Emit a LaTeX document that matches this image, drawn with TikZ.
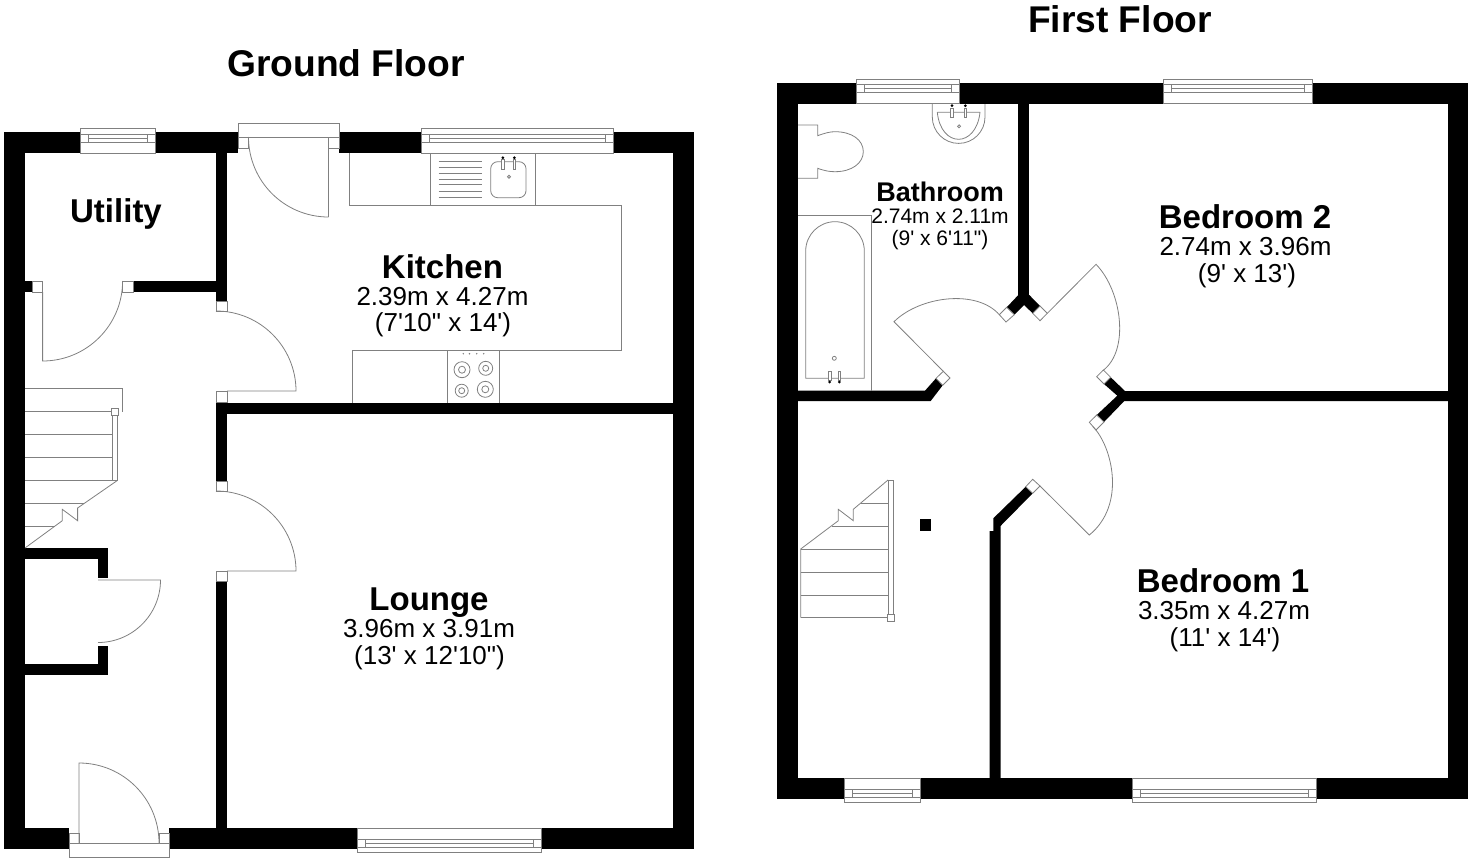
\documentclass[tikz,border=0pt]{standalone}
\usepackage{fontspec}
\setmainfont{Liberation Sans}[Ligatures=TeXOff]
\begin{document}
\begin{tikzpicture}[x=1pt, y=-1pt,
    wall/.style = {fill=black},
    fitting/.style = {draw=black!50, line width=0.8pt},
    jamb/.style = {draw=black!50, line width=0.8pt, fill=white},
    floorname/.style = {anchor=base, inner sep=0pt, font=\fontsize{37.2}{37}\selectfont\bfseries},
    roomname/.style = {anchor=base, inner sep=0pt, font=\fontsize{33}{33}\selectfont\bfseries},
    roomsize/.style = {anchor=base, inner sep=0pt, font=\fontsize{26}{26}\selectfont},
    bathname/.style = {anchor=base, inner sep=0pt, font=\fontsize{27}{27}\selectfont\bfseries},
    bathsize/.style = {anchor=base, inner sep=0pt, font=\fontsize{21}{21}\selectfont}]
  \useasboundingbox (0,0) rectangle (1472,865);

  % straight walls
  \foreach \xa/\ya/\xb/\yb in {4/132/25/849, 4/132/694/153, 673/132/694/849, 4/828/694/849,
      216/153/227/301, 133/281/216/292, 25/281/32/292, 216/402/227/481, 216/581/227/828,
      216/403/673/413.5, 25/548/108.3/559, 97.7/548/108.3/578, 97.7/645.7/108.3/675, 25/664/108.3/675,
      777/82.5/798/799, 777/82.5/1468/104, 1448/82.5/1468/799, 777/778/1468/799,
      1018.3/104/1029.3/296, 920/519.3/930.7/530.7}
    \fill[wall] (\xa,\ya) rectangle (\xb,\yb);

  % angled walls on the landing
  \fill[wall] (1018.3,295) -- (1006.7,307.3) -- (1014.3,314.7) -- (1024,305) -- (1032.7,313.3)
    -- (1040,306) -- (1029.3,295) -- cycle;
  \fill[wall] (798,390.7) -- (925,390.7) -- (936,378.3) -- (942.7,385.3) -- (930.7,401) -- (798,401) -- cycle;
  \fill[wall] (1110.7,377.3) -- (1125,391) -- (1448,391) -- (1448,401) -- (1124.3,401) -- (1104,422)
    -- (1096.7,415) -- (1117.3,395.7) -- (1104,384) -- cycle;
  \fill[wall] (1025.7,486.7) -- (1032.7,493.3) -- (1000.5,526) -- (1000.5,778) -- (989.5,778) -- (989.5,531)
    -- (993.3,531) -- (993.3,518.3) -- cycle;

  % gaps for the outside doors
  \fill[white] (238,132) rectangle (339,153);
  \fill[white] (69,828) rectangle (169,849);

  % windows
  \foreach \xa/\xb/\yo/\so in {80/155/132/-1, 421/613/132/-1, 357.5/541/849/1,
      856.7/959.3/82.5/-1, 1163/1312/82.5/-1, 844.6/920/799/1, 1132.5/1316/799/1} {
    \draw[jamb] (\xa,\yo-21*\so) rectangle (\xb,\yo+3.5*\so);
    \draw[fitting] (\xa,\yo-2*\so) -- (\xb,\yo-2*\so);
    \draw[fitting] (\xa,\yo-10*\so) -- (\xb,\yo-10*\so);
    \draw[fitting] (\xa+8,\yo-6*\so) -- (\xb-8,\yo-6*\so);
    \draw[fitting] (\xa+8,\yo-2*\so) -- (\xa+8,\yo-10*\so);
    \draw[fitting] (\xb-8,\yo-2*\so) -- (\xb-8,\yo-10*\so);
  }

  % door jambs
  \foreach \xa/\ya/\xb/\yb in {238/137/248.5/148, 328.5/137/339/148, 238/123/339/137,
      69/833/79/843, 159/833/169/843, 69/843/169/857,
      32/281/42.6/292, 122.4/281/133/292, 216/301/227/311.7, 216/391/227/402, 216/481/227/491.5, 216/571/227/581}
    \draw[jamb] (\xa,\ya) rectangle (\xb,\yb);
  \draw[jamb] (1006.7,307.3) -- (999.3,314.7) -- (1006,322) -- (1014.3,314.7) -- cycle;
  \draw[jamb] (1032.7,313.3) -- (1040,306) -- (1047.3,313.3) -- (1040,320.7) -- cycle;
  \draw[jamb] (936,378.3) -- (943.3,371.3) -- (950,378) -- (942.7,385.3) -- cycle;
  \draw[jamb] (1096.7,376.7) -- (1103.3,370) -- (1110.7,377.3) -- (1104,384) -- cycle;
  \draw[jamb] (1096.7,415) -- (1089.3,422.3) -- (1096,430) -- (1104,422) -- cycle;
  \draw[jamb] (1032.7,479.3) -- (1040,486) -- (1032.7,493.3) -- (1025.7,486.7) -- cycle;

  % door leaves, ground floor
  \draw[fitting] (328.5,217) -- (328.5,148) (248.5,137) arc[start angle=180, end angle=270, radius=80pt];
  \draw[fitting] (42.6,292) -- (42.6,361) arc[start angle=270, end angle=360, radius=80pt];
  \draw[fitting] (216,311) arc[start angle=90, end angle=0, radius=80pt] -- (227,391);
  \draw[fitting] (216,491) arc[start angle=90, end angle=0, radius=80pt] -- (227,571);
  \draw[fitting] (98,580) -- (160.5,580) arc[start angle=0, end angle=-90, radius=62.5pt];
  \draw[fitting] (79,843) -- (79,763) arc[start angle=90, end angle=0, radius=80pt];

  % door leaves, first floor
  \draw[fitting] (943.3,371.3) -- (894,321.7) .. controls (920,296) and (976.9,289) .. (999.3,314.7);
  \draw[fitting] (1047.3,313.3) -- (1096,264.3) .. controls (1122,291) and (1129.9,350.7) .. (1102.7,370.7);
  \draw[fitting] (1040,486) -- (1089.3,535) .. controls (1126.7,504.6) and (1112,446) .. (1093,426.7);

  % stairs, ground floor
  \draw[fitting] (25,388.3) -- (122,388.3) -- (122,411.7);
  \foreach \ya in {411.7, 434.3, 457.3, 480.3}
    \draw[fitting] (25,\ya) -- (112,\ya);
  \draw[fitting] (25,503.3) -- (84,503.3);
  \draw[fitting] (25,526) -- (55,526);
  \draw[fitting] (112,411) rectangle (117.6,480.3);
  \draw[jamb] (111,408) rectangle (118,415);
  \draw[fitting] (25,548) -- (62.3,520.7) -- (62.3,509.3) -- (77.6,520.7) -- (77.6,508) -- (117.6,480.3);

  % stairs, first floor
  \draw[fitting] (800.7,617.7) -- (800.7,549) -- (838.3,520.7) -- (838.3,509.3) -- (853.3,520.7)
    -- (853.3,509.3) -- (888,480);
  \draw[fitting] (860.7,503) -- (888,503);
  \draw[fitting] (831.7,526) -- (888,526);
  \foreach \ya in {549, 572, 595, 617.7}
    \draw[fitting] (800.7,\ya) -- (888,\ya);
  \draw[fitting] (888,480) rectangle (893.7,614.3);
  \draw[jamb] (887,614.3) rectangle (894.3,621.7);

  % kitchen units
  \draw[fitting] (349.3,153) -- (349.3,205.7) -- (621,205.7) -- (621,350.3) -- (352.3,350.3) -- (352.3,403);
  \draw[fitting] (430.3,153) -- (430.3,205.7) (535.3,153) -- (535.3,205.7);
  \draw[fitting] (447.3,350.3) -- (447.3,403) (499.3,350.3) -- (499.3,403);
  \foreach \ya in {161.7, 167.3, 173.3, 179, 184.7, 191, 197}
    \draw[fitting] (438.7,\ya) -- (482.3,\ya);
  \draw[fitting, rounded corners=7pt] (490.7,161.7) rectangle (526,197.7);
  \draw[fitting] (509,176.7) circle[radius=1.5pt];
  \draw[jamb] (501.7,159) rectangle (504,169);
  \draw[jamb] (513,159) rectangle (515.7,169);
  \fill (502.8,157.7) circle[radius=1.5pt] (514.3,157.7) circle[radius=1.5pt];
  \foreach \xa/\ya/\ra/\rb in {462/369.7/8/3.5, 485.7/368.3/7/3, 461.7/390.7/6.5/3, 485.3/389.3/8/3.5} {
    \draw[fitting] (\xa,\ya) circle[radius=\ra pt];
    \draw[fitting] (\xa,\ya) circle[radius=\rb pt];
  }
  \foreach \xa in {463.3, 469.5, 476.7, 483.7}
    \fill[black!50] (\xa,353.7) circle[radius=0.8pt];

  % bathroom fittings
  \draw[fitting] (798,125) -- (817.7,125) -- (817.7,135.7) .. controls (825,133) and (830,131.7) .. (835,131.7)
    .. controls (852,131.7) and (863.3,140) .. (863.3,151.7) .. controls (863.3,163) and (852,171.7) .. (835,171.7)
    .. controls (830,171.7) and (825,171) .. (817.7,168.3) -- (817.7,178.3) -- (798,178.3);
  \draw[fitting] (932.3,104) -- (932.3,117) arc[start angle=180, end angle=360, x radius=26.35pt, y radius=26.4pt] -- (985,104);
  \draw[fitting] (937.3,112.3) -- (980,112.3) .. controls (976,148.3) and (941,148.3) .. (937.3,112.3);
  \draw[fitting] (959,126.3) circle[radius=1.5pt];
  \draw[jamb] (950.7,108) rectangle (953.3,117.3);
  \draw[jamb] (964,108) rectangle (966.7,117.3);
  \fill (952,105.7) circle[radius=1.5pt] (965.3,105.7) circle[radius=1.5pt];
  \draw[fitting] (798,215) -- (871.7,215) -- (871.7,390.7);
  \draw[fitting] (805.7,378.3) -- (805.7,251) arc[start angle=180, end angle=0, radius=29.3pt] -- (864.3,378.3) -- cycle;
  \draw[fitting] (834.3,358.3) circle[radius=2pt];
  \draw[jamb] (828.3,371) rectangle (831,380);
  \draw[jamb] (838,371) rectangle (840.8,380);
  \fill (829.7,382) circle[radius=1.5pt] (839.4,382) circle[radius=1.5pt];

  % labels
  \node[floorname] (groundfloor) at (346,76) {Ground Floor};
  \node[floorname] (firstfloor) at (1120,32) {First Floor};
  \node[roomname] (utility) at (116,222) {Utility};
  \node[roomname] (kitchen) at (442.5,278) {Kitchen};
  \node[roomsize] (kitchenm) at (442.5,305) {2.39m x 4.27m};
  \node[roomsize] (kitchenft) at (443,331) {(7'10" x 14')};
  \node[roomname] (lounge) at (429,610) {Lounge};
  \node[roomsize] (loungem) at (429,637) {3.96m x 3.91m};
  \node[roomsize] (loungeft) at (429.5,664) {(13' x 12'10")};
  \node[bathname] (bathroom) at (940,201) {Bathroom};
  \node[bathsize] (bathroomm) at (940,223) {2.74m x 2.11m};
  \node[bathsize] (bathroomft) at (940,245) {(9' x 6'11")};
  \node[roomname] (bedroomtwo) at (1245,228) {Bedroom 2};
  \node[roomsize] (bedroomtwom) at (1245.5,255) {2.74m x 3.96m};
  \node[roomsize] (bedroomtwoft) at (1247,282) {(9' x 13')};
  \node[roomname] (bedroomone) at (1223,592) {Bedroom 1};
  \node[roomsize] (bedroomonem) at (1224,619) {3.35m x 4.27m};
  \node[roomsize] (bedroomoneft) at (1225,646) {(11' x 14')};
\end{tikzpicture}
\end{document}
